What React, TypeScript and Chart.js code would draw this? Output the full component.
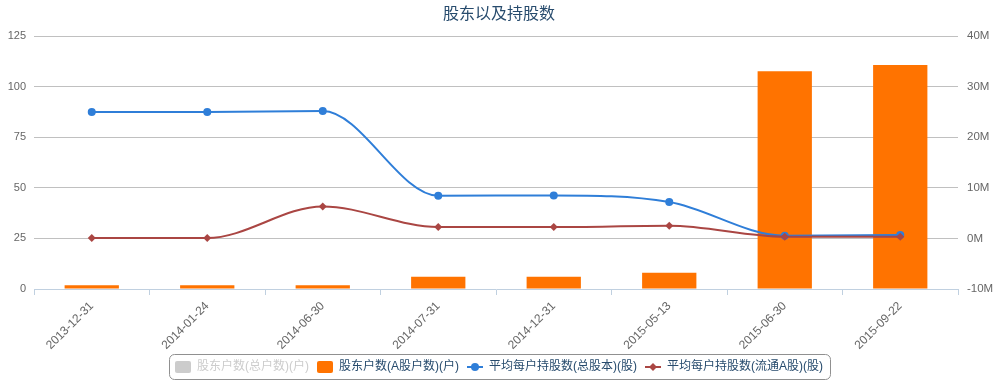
import React, { useEffect, useRef } from 'react';
import { Chart, registerables } from 'chart.js';

Chart.register(...registerables);

const categories = ['2013-12-31', '2014-01-24', '2014-06-30', '2014-07-31', '2014-12-31', '2015-05-13', '2015-06-30', '2015-09-22'];
const totalHolders = [1.9, 1.9, 1.9, 6.1, 6.1, 8.0, 107.7, 110.8];
const aShareHolders = [1.9, 1.9, 1.9, 6.1, 6.1, 8.0, 107.7, 110.8];
const avgSharesTotal = [25000000, 25000000, 25200000, 8440000, 8500000, 7200000, 530000, 670000];
const avgSharesFloatA = [80000, 80000, 6340000, 2250000, 2250000, 2500000, 340000, 340000];
const seriesNames = ['股东户数(总户数)(户)', '股东户数(A股户数)(户)', '平均每户持股数(总股本)(股)', '平均每户持股数(流通A股)(股)'];
const titleText = '股东以及持股数';

const FONT = '"Liberation Sans", "Noto Sans CJK SC", sans-serif';
const GRAY = '#cccccc';
const ORANGE = '#ff7300';
const BLUE = '#2f7ed8';
const RED = '#aa4643';

function makeIcon(kind: string, color: string) {
  const c = document.createElement('canvas');
  c.width = 16;
  c.height = 12;
  const g = c.getContext('2d')!;
  g.fillStyle = color;
  g.strokeStyle = color;
  if (kind === 'rect') {
    g.beginPath();
    (g as any).roundRect(0, 0, 16, 12, 2);
    g.fill();
  } else {
    g.lineWidth = 2;
    g.beginPath();
    g.moveTo(0, 6);
    g.lineTo(16, 6);
    g.stroke();
    g.beginPath();
    if (kind === 'circle') {
      g.arc(8, 6, 4, 0, Math.PI * 2);
    } else {
      g.moveTo(8, 2);
      g.lineTo(12, 6);
      g.lineTo(8, 10);
      g.lineTo(4, 6);
      g.closePath();
    }
    g.fill();
  }
  return c;
}

const legendBorder = {
  id: 'legendBorder',
  afterDraw(chart: any) {
    const lg = chart.legend;
    const hb = lg && lg.legendHitBoxes;
    if (!hb || !hb.length) return;
    const left = Math.min(...hb.map((h: any) => h.left)) - 6;
    const right = Math.max(...hb.map((h: any) => h.left + h.width)) + 7;
    const cy = hb[0].top + hb[0].height / 2;
    const top = Math.round(cy - 13) + 0.5;
    const bottom = Math.round(cy + 12) + 0.5;
    const ctx = chart.ctx;
    ctx.save();
    ctx.strokeStyle = '#909090';
    ctx.lineWidth = 1;
    ctx.beginPath();
    ctx.roundRect(Math.round(left) + 0.5, top, Math.round(right - left), bottom - top, 5);
    ctx.stroke();
    ctx.restore();
  },
};

export default function App() {
  const ref = useRef<HTMLCanvasElement>(null);
  useEffect(() => {
    document.body.style.margin = '0';
    const icons = [
      makeIcon('rect', GRAY),
      makeIcon('rect', ORANGE),
      makeIcon('circle', BLUE),
      makeIcon('diamond', RED),
    ];
    const fontColors = [GRAY, '#274b6d', '#274b6d', '#274b6d'];
    const chart = new Chart(ref.current!, {
      type: 'bar',
      data: {
        labels: categories,
        datasets: [
          {
            type: 'bar',
            label: seriesNames[0],
            data: totalHolders,
            backgroundColor: GRAY,
            hidden: true,
            yAxisID: 'y',
            order: 3,
            barPercentage: 0.47,
            categoryPercentage: 1,
          },
          {
            type: 'bar',
            label: seriesNames[1],
            data: aShareHolders,
            backgroundColor: ORANGE,
            yAxisID: 'y',
            order: 3,
            barPercentage: 0.47,
            categoryPercentage: 1,
          },
          {
            type: 'line',
            label: seriesNames[2],
            data: avgSharesTotal,
            borderColor: BLUE,
            backgroundColor: BLUE,
            borderWidth: 2,
            pointRadius: 4,
            pointStyle: 'circle',
            pointBorderWidth: 0,
            tension: 0.4,
            cubicInterpolationMode: 'monotone',
            yAxisID: 'y1',
            order: 2,
          },
          {
            type: 'line',
            label: seriesNames[3],
            data: avgSharesFloatA,
            borderColor: RED,
            backgroundColor: RED,
            borderWidth: 2,
            pointRadius: 4,
            pointStyle: 'rectRot',
            pointBorderWidth: 0,
            tension: 0.4,
            cubicInterpolationMode: 'monotone',
            yAxisID: 'y1',
            order: 1,
          },
        ] as any,
      },
      options: {
        responsive: false,
        animation: false,
        devicePixelRatio: 1,
        layout: { padding: { top: 0, left: 0, right: 0, bottom: 1 } },
        plugins: {
          tooltip: { enabled: false },
          title: {
            display: true,
            text: titleText,
            color: '#274b6d',
            font: { size: 16, weight: 'normal', family: FONT },
            padding: { top: 5, bottom: 12 },
          },
          legend: {
            position: 'bottom',
            onClick: () => {},
            labels: {
              usePointStyle: true,
              pointStyleWidth: 16,
              boxHeight: 12,
              padding: 8,
              font: { size: 12, family: FONT },
              generateLabels: () =>
                seriesNames.map((name, i) => ({
                  text: name,
                  fillStyle: 'rgba(0,0,0,0)',
                  strokeStyle: 'rgba(0,0,0,0)',
                  lineWidth: 0,
                  pointStyle: icons[i],
                  fontColor: fontColors[i],
                  hidden: false,
                  datasetIndex: i,
                })) as any,
            },
          },
        },
        scales: {
          x: {
            offset: true,
            grid: {
              display: true,
              offset: true,
              drawOnChartArea: false,
              drawTicks: true,
              tickLength: 6,
              color: '#c0d0e0',
            },
            border: { display: true, color: '#c0d0e0', width: 1 },
            ticks: {
              autoSkip: false,
              minRotation: 45,
              maxRotation: 45,
              padding: 4,
              color: '#666666',
              font: { size: 12, family: FONT },
            },
            afterFit: (s: any) => {
              s.height = 64;
            },
          },
          y: {
            position: 'left',
            min: 0,
            max: 125,
            ticks: {
              stepSize: 25,
              padding: 8,
              color: '#666666',
              font: { size: 11, family: FONT },
            },
            grid: {
              drawTicks: false,
              color: (c: any) => (c.tick && c.tick.value === 0 ? 'rgba(0,0,0,0)' : '#c0c0c0'),
            },
            border: { display: false },
            afterFit: (s: any) => {
              s.width = 34;
            },
          },
          y1: {
            position: 'right',
            min: -10000000,
            max: 40000000,
            ticks: {
              stepSize: 10000000,
              padding: 9,
              color: '#666666',
              font: { size: 11.5, family: FONT },
              callback: (v: any) => `${Math.round(Number(v) / 1000000)}M`,
            },
            grid: { drawOnChartArea: false, drawTicks: false },
            border: { display: false },
            afterFit: (s: any) => {
              s.width = 40;
            },
          },
        },
      } as any,
      plugins: [legendBorder],
    });
    return () => chart.destroy();
  }, []);
  return (
    <div style={{ width: 998, height: 384 }}>
      <canvas ref={ref} width={998} height={384} />
    </div>
  );
}
